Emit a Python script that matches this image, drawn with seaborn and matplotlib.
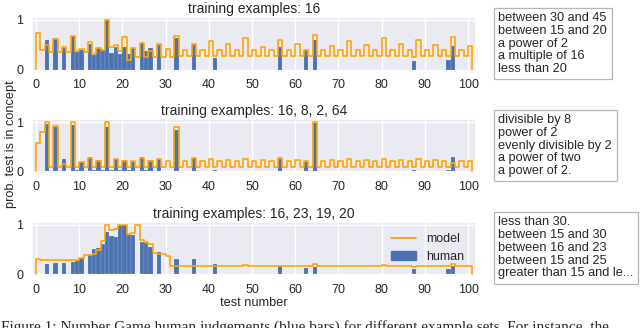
import numpy as np
import pandas as pd
import matplotlib
matplotlib.use("Agg")
import matplotlib.pyplot as plt
from matplotlib.lines import Line2D
from matplotlib.patches import Patch
import seaborn as sns

sns.set_theme(style="darkgrid")
plt.rcParams['font.family'] = ['Liberation Sans', 'DejaVu Sans']

# test numbers that got human judgements
test_numbers = [2, 4, 6, 8, 9, 10, 12, 13, 14, 15, 16, 17, 18, 19, 20, 21, 22,
                24, 25, 26, 28, 32, 36, 41, 56, 62, 64, 87, 95, 96]

# panel 1: training examples 16
human_16 = [0.59, 0.63, 0.44, 0.67, 0.36, 0.39, 0.51, 0.30, 0.43, 0.39, 1.00, 0.34, 0.46, 0.32, 0.46, 0.31, 0.44,
            0.53, 0.37, 0.43, 0.50, 0.63, 0.50, 0.23, 0.46, 0.39, 0.59, 0.18, 0.20, 0.47]
model_16 = [0.73, 0.39, 0.50, 0.35, 0.61, 0.35, 0.46, 0.35, 0.68, 0.37,
            0.42, 0.35, 0.56, 0.31, 0.43, 0.39, 1.00, 0.46, 0.49, 0.37,
            0.65, 0.20, 0.44, 0.25, 0.54, 0.25, 0.37, 0.25, 0.52, 0.25,
            0.41, 0.25, 0.68, 0.27, 0.39, 0.27, 0.51, 0.27, 0.39, 0.27,
            0.58, 0.27, 0.39, 0.27, 0.52, 0.27, 0.39, 0.27, 0.63, 0.27,
            0.39, 0.27, 0.46, 0.27, 0.39, 0.27, 0.60, 0.27, 0.39, 0.27,
            0.51, 0.27, 0.40, 0.27, 0.69, 0.27, 0.39, 0.27, 0.47, 0.27,
            0.39, 0.27, 0.58, 0.27, 0.39, 0.27, 0.49, 0.27, 0.39, 0.27,
            0.63, 0.27, 0.39, 0.27, 0.52, 0.27, 0.39, 0.26, 0.59, 0.27,
            0.39, 0.27, 0.50, 0.27, 0.39, 0.27, 0.66, 0.27, 0.39, 0.27,
            0.48]

# panel 2: training examples 16, 8, 2, 64
human_pow2 = [0.95, 0.90, 0.24, 0.93, 0.03, 0.19, 0.29, 0.02, 0.22, 0.03, 0.90, 0.03, 0.24, 0.02, 0.22, 0.02, 0.19,
              0.29, 0.03, 0.22, 0.24, 0.83, 0.26, 0.02, 0.24, 0.18, 0.98, 0.03, 0.03, 0.28]
model_pow2 = [0.58, 0.79, 1.00, 0.09, 0.92, 0.09, 0.15, 0.09, 1.00, 0.09,
              0.19, 0.09, 0.27, 0.09, 0.20, 0.09, 1.00, 0.09, 0.24, 0.09,
              0.21, 0.09, 0.21, 0.09, 0.26, 0.09, 0.21, 0.09, 0.24, 0.09,
              0.20, 0.09, 0.90, 0.09, 0.20, 0.09, 0.26, 0.09, 0.20, 0.09,
              0.24, 0.09, 0.20, 0.09, 0.22, 0.09, 0.20, 0.09, 0.25, 0.09,
              0.20, 0.09, 0.22, 0.09, 0.20, 0.09, 0.26, 0.09, 0.20, 0.09,
              0.22, 0.09, 0.20, 0.09, 1.00, 0.09, 0.20, 0.09, 0.22, 0.09,
              0.20, 0.09, 0.25, 0.09, 0.20, 0.09, 0.22, 0.09, 0.20, 0.09,
              0.25, 0.09, 0.20, 0.09, 0.22, 0.09, 0.20, 0.09, 0.25, 0.09,
              0.20, 0.09, 0.22, 0.09, 0.20, 0.09, 0.16, 0.09, 0.20, 0.09,
              0.20]

# panel 3: training examples 16, 23, 19, 20
human_range = [0.21, 0.22, 0.23, 0.25, 0.26, 0.32, 0.38, 0.50, 0.52, 0.60, 0.85, 0.77, 0.75, 1.00, 1.00, 0.79, 0.80,
               0.65, 0.62, 0.55, 0.44, 0.30, 0.30, 0.20, 0.16, 0.13, 0.15, 0.11, 0.11, 0.17]
model_range = [0.30, 0.28, 0.28, 0.28, 0.28, 0.28, 0.28, 0.28, 0.29, 0.29,
               0.32, 0.38, 0.39, 0.40, 0.48, 0.67, 1.00, 0.90, 0.92, 1.00,
               1.00, 0.82, 0.84, 1.00, 0.68, 0.65, 0.60, 0.42, 0.41, 0.40,
               0.37, 0.17, 0.17, 0.16, 0.17, 0.16, 0.17, 0.16, 0.17, 0.16,
               0.17, 0.16, 0.17, 0.16, 0.17, 0.16, 0.17, 0.16, 0.18, 0.16,
               0.17, 0.16, 0.17, 0.16, 0.17, 0.16, 0.17, 0.16, 0.17, 0.16,
               0.17, 0.16, 0.17, 0.16, 0.21, 0.16, 0.17, 0.16, 0.17, 0.16,
               0.17, 0.16, 0.17, 0.16, 0.17, 0.16, 0.17, 0.16, 0.17, 0.16,
               0.18, 0.16, 0.17, 0.16, 0.17, 0.16, 0.17, 0.15, 0.17, 0.16,
               0.17, 0.16, 0.17, 0.16, 0.17, 0.16, 0.20, 0.16, 0.17, 0.16,
               0.17]

titles = ["training examples: 16",
          "training examples: 16, 8, 2, 64",
          "training examples: 16, 23, 19, 20"]

box_texts = ["between 30 and 45\nbetween 15 and 20\na power of 2\na multiple of 16\nless than 20",
             "divisible by 8\npower of 2\nevenly divisible by 2\na power of two\na power of 2.",
             "less than 30.\nbetween 15 and 30\nbetween 16 and 23\nbetween 15 and 25\ngreater than 15 and le..."]

caption = ("Figure 1: Number Game human judgements (blue bars) for different example sets. "
           "For instance, the")

all_numbers = np.arange(0, 101)
blue = "#4c72b0"

fig = plt.figure(figsize=(6.4, 3.28), dpi=100)
axes_pos = [[0.0495, 0.7835, 0.694, 0.1655],
            [0.0495, 0.474, 0.694, 0.163],
            [0.0495, 0.160, 0.694, 0.164]]
box_y = [0.963, 0.652, 0.340]

panels = [(human_16, model_16), (human_pow2, model_pow2), (human_range, model_range)]

for i, (human, model) in enumerate(panels):
    ax = fig.add_axes(axes_pos[i])
    human_df = pd.DataFrame({"number": test_numbers, "prob": human})
    model_df = pd.DataFrame({"number": all_numbers, "prob": model})
    sns.histplot(data=human_df, x="number", weights="prob", binwidth=1, binrange=(0, 101),
                 ax=ax, color=blue, alpha=1, edgecolor="white", linewidth=0.1)
    sns.histplot(data=model_df, x="number", weights="prob", binwidth=1, binrange=(0, 101),
                 ax=ax, element="step", fill=False, color="orange", linewidth=1.2)
    # close the outline down to zero at both ends
    line = ax.lines[-1]
    xd, yd = line.get_data()
    line.set_data(np.r_[xd[0], xd, xd[-1]], np.r_[0, yd, 0])

    ax.set_xlim(-1, 101.8)
    ax.set_ylim(-0.03, 1.06)
    ax.set_xticks(range(0, 101, 10))
    ax.set_yticks([0, 1])
    ax.tick_params(labelsize=9, pad=0)
    ax.set_ylabel("")
    ax.set_xlabel("")
    ax.set_title(titles[i], fontsize=10, pad=3)

    fig.text(0.7786, box_y[i], box_texts[i], ha="left", va="top", fontsize=9.2,
             linespacing=1.08,
             bbox=dict(boxstyle="square,pad=0.35", fc="white", ec="#b5b5b5", lw=0.9))

    if i == 2:
        ax.set_xlabel("test number", fontsize=9.2, labelpad=1)
        handles = [Line2D([0], [0], color="orange", lw=1.3),
                   Patch(color=blue)]
        ax.legend(handles, ["model", "human"], loc="upper right", fontsize=9,
                  frameon=False, handlelength=2.0)

fig.text(0.017, 0.561, "prob. test is in concept", rotation=90,
         ha="center", va="center", fontsize=9.2)

# caption of the source figure, cut by the bottom edge as in the original
fig.text(0.002, 1 - 320 / 328, caption, ha="left", va="top", fontsize=11,
         family="Liberation Serif")

fig.savefig("out.png", dpi=100)
